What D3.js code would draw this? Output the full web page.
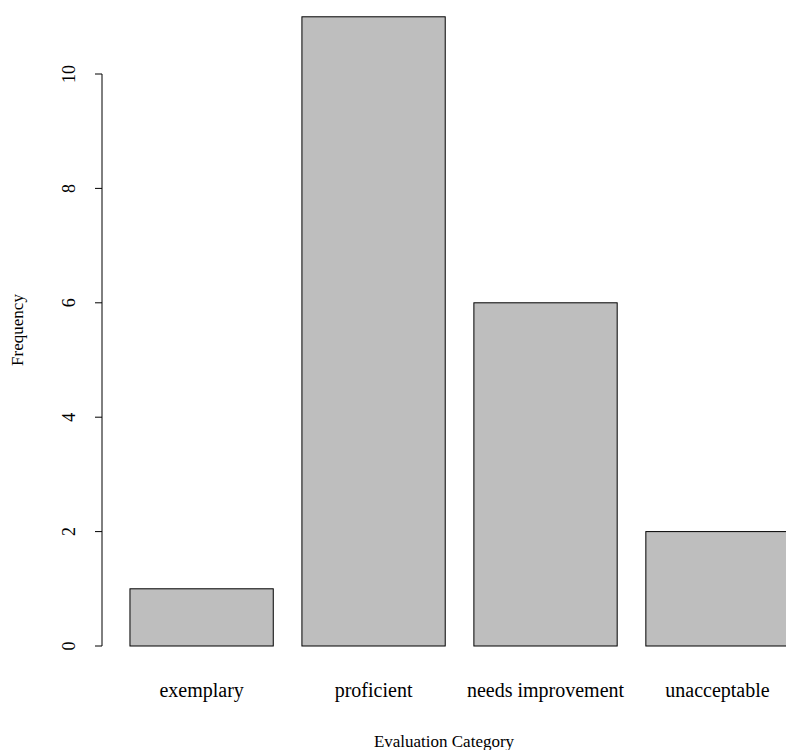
<!DOCTYPE html>
<html><head><meta charset="utf-8">
<script src="https://cdn.jsdelivr.net/npm/d3@7"></script>
<style>html,body{margin:0;padding:0;background:#fff;overflow:hidden}</style>
</head><body>
<svg id="c" width="786" height="750"></svg>
<script>
const categories = ["exemplary", "proficient", "needs improvement", "unacceptable"];
const frequencies = [1, 11, 6, 2];
const yTicks = [0, 2, 4, 6, 8, 10];
const xTitle = "Evaluation Category";
const yTitle = "Frequency";

const svg = d3.select("#c");
const font = "'Liberation Serif','Times New Roman',Times,serif";
const barWidth = 1, space = 0.2;
const x = d3.scaleLinear().domain([0, 5]).range([101.3, 101.3 + 5 * 143.3]);
const y = d3.scaleLinear().domain([0, 10]).range([646, 74]);
const left = i => space + i * (barWidth + space);

svg.selectAll("rect.bar").data(frequencies).enter().append("rect")
  .attr("class", "bar")
  .attr("x", (d, i) => x(left(i)))
  .attr("width", (d, i) => x(left(i) + barWidth) - x(left(i)))
  .attr("y", d => y(d))
  .attr("height", d => y(0) - y(d))
  .attr("fill", "#bebebe").attr("stroke", "#000").attr("stroke-width", 1);

// category labels
svg.selectAll("text.cat").data(categories).enter().append("text")
  .attr("class", "cat")
  .attr("x", (d, i) => x(left(i) + barWidth / 2))
  .attr("y", 697)
  .attr("text-anchor", "middle")
  .attr("font-family", font).attr("font-size", 20).attr("fill", "#000")
  .text(d => d);

// y axis
const ax = 102;
svg.append("line").attr("x1", ax).attr("x2", ax)
  .attr("y1", y(yTicks[0])).attr("y2", y(yTicks[yTicks.length - 1]))
  .attr("stroke", "#000").attr("stroke-width", 1);
svg.selectAll("line.tick").data(yTicks).enter().append("line")
  .attr("class", "tick")
  .attr("x1", ax - 7).attr("x2", ax)
  .attr("y1", d => y(d)).attr("y2", d => y(d))
  .attr("stroke", "#000").attr("stroke-width", 1);
svg.selectAll("text.tl").data(yTicks).enter().append("text")
  .attr("class", "tl")
  .attr("transform", d => `translate(75,${y(d)}) rotate(-90)`)
  .attr("text-anchor", "middle")
  .attr("font-family", font).attr("font-size", 18).attr("fill", "#000")
  .text(d => d);

// titles
svg.append("text").attr("x", 444).attr("y", 747)
  .attr("text-anchor", "middle")
  .attr("font-family", font).attr("font-size", 17).attr("fill", "#000")
  .text(xTitle);
svg.append("text")
  .attr("transform", `translate(23,330) rotate(-90)`)
  .attr("text-anchor", "middle")
  .attr("font-family", font).attr("font-size", 17).attr("fill", "#000")
  .text(yTitle);
</script>
</body></html>
